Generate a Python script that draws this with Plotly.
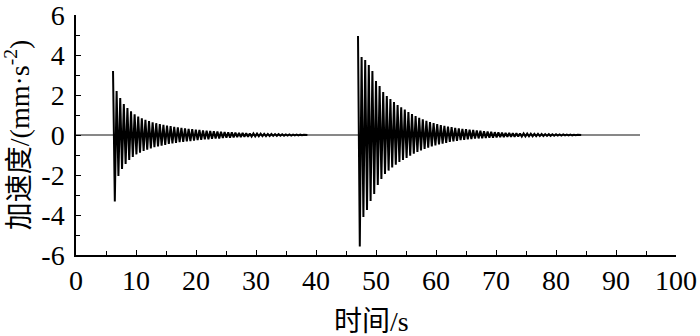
import plotly.graph_objects as go

# ---- data ----
# Alternating peak values (mm/s^2), sampled every STEP seconds from each burst start
BURST1_START = 6.17
BURST2_START = 47.0
STEP = 0.3
SIGNAL_START = 0.0
SIGNAL_END = 94.0

burst1_peaks = [
    3.2, -3.33, 2.2, -2.05, 1.85, -1.7, 1.55, -1.45, 1.35, -1.25,
    1.18, -1.1, 1.03, -0.97, 0.92, -0.88, 0.84, -0.8, 0.76, -0.73,
    0.7, -0.67, 0.64, -0.61, 0.59, -0.57, 0.55, -0.53, 0.51, -0.49,
    0.47, -0.45, 0.44, -0.42, 0.41, -0.39, 0.38, -0.36, 0.35, -0.34,
    0.33, -0.32, 0.31, -0.3, 0.29, -0.28, 0.27, -0.26, 0.25, -0.24,
    0.23, -0.22, 0.22, -0.21, 0.2, -0.19, 0.19, -0.18, 0.17, -0.17,
    0.16, -0.15, 0.15, -0.14, 0.14, -0.13, 0.13, -0.12, 0.12, -0.11,
    0.11, -0.1, 0.1, -0.095, 0.09, -0.085, 0.08, -0.078, 0.075, -0.07,
    0.068, -0.065, 0.062, -0.06, 0.057, -0.055, 0.052, -0.05, 0.048, -0.046,
    0.044, -0.042, 0.04, -0.038, 0.036, -0.034, 0.032, -0.03, 0.028, -0.026,
    0.024, -0.022, 0.02, -0.018, 0.016, -0.014, 0.012, -0.01, 0.0,
]

burst2_peaks = [
    4.95, -5.58, 3.9, -4.1, 3.75, -3.75, 3.5, -3.3, 3.2, -2.95,
    2.7, -2.5, 2.45, -2.2, 2.15, -1.95, 1.95, -1.78, 1.8, -1.62,
    1.65, -1.48, 1.5, -1.35, 1.38, -1.25, 1.27, -1.15, 1.15, -1.04,
    1.05, -0.94, 0.95, -0.85, 0.86, -0.77, 0.78, -0.7, 0.71, -0.63,
    0.65, -0.57, 0.59, -0.52, 0.54, -0.47, 0.5, -0.43, 0.46, -0.39,
    0.42, -0.35, 0.39, -0.32, 0.36, -0.29, 0.33, -0.26, 0.31, -0.24,
    0.29, -0.22, 0.27, -0.2, 0.25, -0.18, 0.23, -0.17, 0.21, -0.16,
    0.19, -0.15, 0.17, -0.14, 0.16, -0.13, 0.14, -0.12, 0.13, -0.11,
    0.12, -0.1, 0.11, -0.095, 0.1, -0.09, 0.09, -0.085, 0.085, -0.08,
    0.08, -0.075, 0.075, -0.07, 0.07, -0.065, 0.065, -0.06, 0.06, -0.056,
    0.055, -0.052, 0.05, -0.048, 0.046, -0.044, 0.042, -0.04, 0.038, -0.036,
    0.034, -0.032, 0.03, -0.028, 0.026, -0.024, 0.022, -0.02, 0.018, -0.016,
    0.014, -0.012, 0.01, -0.008, 0.0,
]

x_ticks = [0, 10, 20, 30, 40, 50, 60, 70, 80, 90, 100]
y_ticks = [-6, -4, -2, 0, 2, 4, 6]
y_tick_labels = ["-6", "-4", "-2", "0", "2", "4", "6"]
x_title = "时间/s"
y_title = "加速度/(mm·s<sup>-2</sup>)"

# ---- assemble traces ----
def burst_xy(start, peaks):
    xs = [start + i * STEP for i in range(len(peaks))]
    return xs, list(peaks)

fig = go.Figure()
# quiet baseline of the record
fig.add_trace(go.Scatter(x=[SIGNAL_START, SIGNAL_END], y=[0, 0], mode="lines",
                         line=dict(color="#111", width=1), hoverinfo="skip", showlegend=False))
for start, peaks in ((BURST1_START, burst1_peaks), (BURST2_START, burst2_peaks)):
    bx, by = burst_xy(start, peaks)
    fig.add_trace(go.Scatter(x=bx, y=by, mode="lines",
                             line=dict(color="black", width=2.0),
                             hoverinfo="skip", showlegend=False))

FONT = "Liberation Serif, Noto Sans CJK SC"

axis_common = dict(
    showline=True, linecolor="black", linewidth=1.5,
    showgrid=False, zeroline=False,
    ticks="inside", ticklen=5, tickwidth=1.2, tickcolor="black",
    tickfont=dict(family=FONT, size=28, color="black"),
    ticklabeloverflow="allow",
    mirror=False, automargin=False,
)

fig.update_layout(
    width=700, height=336,
    margin=dict(l=76, r=24, t=15, b=81),
    paper_bgcolor="white", plot_bgcolor="white",
    font=dict(family=FONT, color="black"),
    xaxis=dict(
        range=[0, 100], tickvals=x_ticks, ticklabelstandoff=0,
        minor=dict(dtick=5, ticks="inside", ticklen=4, tickcolor="black", tickwidth=1.2),
        **axis_common,
    ),
    yaxis=dict(
        range=[-6, 6], tickvals=y_ticks, ticktext=y_tick_labels, ticklabelstandoff=4,
        minor=dict(dtick=1, ticks="inside", ticklen=4, tickcolor="black", tickwidth=1.2),
        **axis_common,
    ),
    annotations=[
        dict(text=x_title, xref="paper", yref="paper", x=0.493, y=-0.279,
             xanchor="center", yanchor="middle", showarrow=False,
             font=dict(family=FONT, size=28, color="black")),
        dict(text=y_title, xref="paper", yref="paper", x=-0.098, y=0.5,
             xanchor="center", yanchor="middle", textangle=-90, showarrow=False,
             font=dict(family=FONT, size=28, color="black")),
    ],
)

fig.write_html("out.html", config={"displayModeBar": False},
               post_script="document.body.style.margin='0';")
